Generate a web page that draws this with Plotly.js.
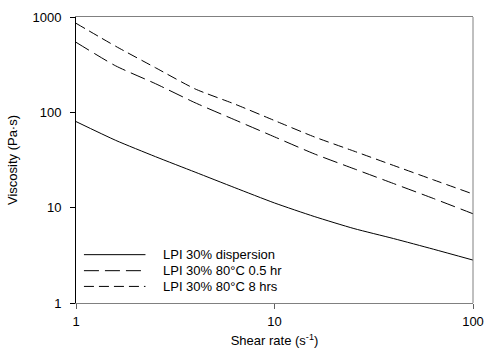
<!DOCTYPE html>
<html>
<head>
<meta charset="utf-8">
<script src="https://cdn.plot.ly/plotly-3.0.1.min.js"></script>
<style>html,body{margin:0;padding:0;background:#fff;}#chart{width:486px;height:355px;}</style>
</head>
<body>
<div id="chart"></div>
<script>
// Data
const shearRate = [1, 1.585, 2.512, 3.981, 6.31, 10, 15.85, 25.12, 39.81, 63.1, 100];
const viscDispersion = [80, 50.8, 34.3, 23.6, 16.2, 11.2, 8.08, 6.04, 4.74, 3.67, 2.82];
const visc80C05hr = [543, 307, 200, 126, 83.4, 55.3, 36.7, 25.6, 17.9, 12.5, 8.63];
const visc80C8hrs = [859, 493, 294, 176, 122, 82, 55.3, 39.2, 27.7, 19.6, 13.9];
const seriesNames = ["LPI 30% dispersion", "LPI 30% 80°C 0.5 hr", "LPI 30% 80°C 8 hrs"];
const xTickVals = [1, 10, 100];
const xTickText = ["1", "10", "100"];
const yTickVals = [1, 10, 100, 1000];
const yTickText = ["1", "10", "100", "1000"];

const font = {family: "Liberation Sans, Arial, sans-serif", size: 13, color: "#000"};
const dashes = ["solid", "15px,6px", "10px,5px"];
const seriesY = [viscDispersion, visc80C05hr, visc80C8hrs];

const traces = seriesY.map((y, i) => ({
  x: shearRate, y: y, name: seriesNames[i], type: "scatter", mode: "lines",
  line: {color: "#000", width: 1, dash: dashes[i], shape: "spline", smoothing: 0.6}, showlegend: false
}));

// manual legend (inside plot area, lower-left)
const legendRowsY = [0.169, 0.113, 0.058];
const shapes = [
  {type: "line", xref: "paper", yref: "paper", x0: 1, x1: 1, y0: 0, y1: 1,
   line: {color: "#808080", width: 1}}
];
const annotations = [];
seriesNames.forEach((n, i) => {
  shapes.push({type: "line", xref: "paper", yref: "paper", x0: 0.020, x1: 0.175,
    y0: legendRowsY[i], y1: legendRowsY[i], line: {color: "#000", width: 1, dash: dashes[i]}});
  annotations.push({xref: "paper", yref: "paper", x: 0.213, y: legendRowsY[i],
    xanchor: "left", yanchor: "middle", showarrow: false, text: n, font: font});
});

const layout = {
  width: 486, height: 355,
  margin: {l: 76, r: 12.5, t: 17, b: 51.7},
  paper_bgcolor: "#fff", plot_bgcolor: "#fff",
  font: font,
  showlegend: false,
  xaxis: {
    type: "log", range: [0, 2], tickvals: xTickVals, ticktext: xTickText,
    showgrid: false, zeroline: false, showline: true, linecolor: "#808080", linewidth: 1, mirror: true,
    ticks: "outside", ticklen: 5, tickcolor: "#606060", tickfont: font, ticklabelstandoff: 1,
    title: {text: "Shear rate (s<sup>-1</sup>)", font: font, standoff: 8}
  },
  yaxis: {
    type: "log", range: [0, 3], tickvals: yTickVals, ticktext: yTickText,
    showgrid: false, zeroline: false, showline: true, linecolor: "#000", linewidth: 1,
    ticks: "outside", ticklen: 5, tickcolor: "#000", tickfont: font, ticklabelstandoff: 6,
    title: {text: "Viscosity (Pa·s)", font: font, standoff: 11}
  },
  shapes: shapes,
  annotations: annotations
};

Plotly.newPlot("chart", traces, layout, {displayModeBar: false, staticPlot: true});
</script>
</body>
</html>
